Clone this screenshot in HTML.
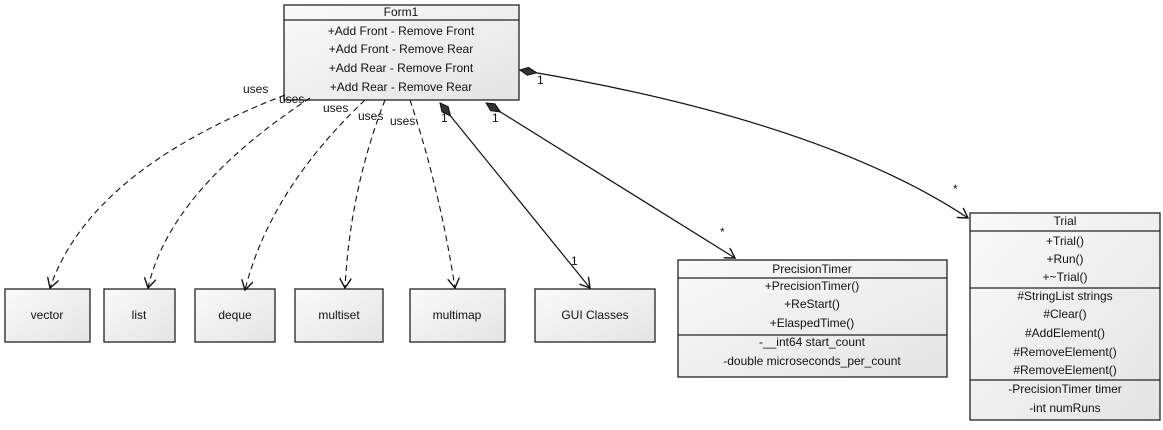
<!DOCTYPE html>
<html><head><meta charset="utf-8"><style>
html,body{margin:0;padding:0;background:#fff}
svg text{font-family:"Liberation Sans",sans-serif;font-size:12px;fill:#111}
</style></head><body>
<svg width="1163" height="425" viewBox="0 0 1163 425" xmlns="http://www.w3.org/2000/svg">
<defs>
<linearGradient id="g" x1="0" y1="0" x2="1" y2="1"><stop offset="0" stop-color="#fafafa"/><stop offset="1" stop-color="#e4e4e4"/></linearGradient>
<marker id="a" markerWidth="12" markerHeight="12" refX="10" refY="6" orient="auto" markerUnits="userSpaceOnUse"><path d="M0,0 L10,6 L0,12" fill="none" stroke="#111" stroke-width="1.4"/></marker>
<marker id="d" markerWidth="20" markerHeight="10" refX="1" refY="5" orient="auto" markerUnits="userSpaceOnUse"><path d="M1,5 L9,1 L18,5 L9,9 Z" fill="#333" stroke="#111"/></marker>
</defs>
<g fill="url(#g)" stroke="#222" stroke-width="1.3">
<rect x="284" y="5" width="235" height="95"/>
<rect x="5" y="289" width="85" height="53"/>
<rect x="104" y="289" width="71" height="53"/>
<rect x="195" y="289" width="80" height="53"/>
<rect x="295" y="289" width="88" height="53"/>
<rect x="410" y="289" width="95" height="53"/>
<rect x="535" y="289" width="120" height="53"/>
<rect x="678" y="260" width="269" height="117"/>
<rect x="970" y="213" width="190" height="207"/>
</g>
<g stroke="#222" stroke-width="1.2">
<line x1="284" y1="20" x2="519" y2="20"/>
<line x1="678" y1="278" x2="947" y2="278"/>
<line x1="678" y1="335" x2="947" y2="335"/>
<line x1="970" y1="231" x2="1160" y2="231"/>
<line x1="970" y1="288" x2="1160" y2="288"/>
<line x1="970" y1="380" x2="1160" y2="380"/>
</g>
<g fill="none" stroke="#111" stroke-width="1.1" stroke-dasharray="6,4" marker-end="url(#a)">
<path d="M285,95 Q90,170 50,288"/>
<path d="M310,98 Q170,190 148,288"/>
<path d="M365,100 Q270,190 245,290"/>
<path d="M385,100 Q350,190 345,288"/>
<path d="M410,100 Q440,190 455,288"/>
</g>
<g fill="none" stroke="#111" stroke-width="1.2" marker-start="url(#d)" marker-end="url(#a)">
<path d="M440,103 L590,288"/>
<path d="M486,103 L735,258"/>
<path d="M520,70 Q820,120 968,218"/>
</g>
<g text-anchor="middle">
<text x="401" y="16">Form1</text>
<text x="401" y="35">+Add Front  - Remove Front</text>
<text x="401" y="53">+Add Front  - Remove Rear</text>
<text x="401" y="72">+Add Rear  - Remove Front</text>
<text x="401" y="91">+Add Rear  - Remove Rear</text>
<text x="47" y="319">vector</text>
<text x="139" y="319">list</text>
<text x="235" y="319">deque</text>
<text x="339" y="319">multiset</text>
<text x="457" y="319">multimap</text>
<text x="595" y="319">GUI Classes</text>
<text x="812" y="273">PrecisionTimer</text>
<text x="812" y="290">+PrecisionTimer()</text>
<text x="812" y="308">+ReStart()</text>
<text x="812" y="327">+ElaspedTime()</text>
<text x="812" y="346">-__int64 start_count</text>
<text x="812" y="365">-double microseconds_per_count</text>
<text x="1065" y="225">Trial</text>
<text x="1065" y="245">+Trial()</text>
<text x="1065" y="263">+Run()</text>
<text x="1065" y="281">+~Trial()</text>
<text x="1065" y="300">#StringList strings</text>
<text x="1065" y="318">#Clear()</text>
<text x="1065" y="337">#AddElement()</text>
<text x="1065" y="356">#RemoveElement()</text>
<text x="1065" y="374">#RemoveElement()</text>
<text x="1065" y="393">-PrecisionTimer timer</text>
<text x="1065" y="412">-int numRuns</text>
</g>
<g style="font-size:10px">
<text x="243" y="93">uses</text>
<text x="279" y="103">uses</text>
<text x="323" y="112">uses</text>
<text x="358" y="120">uses</text>
<text x="390" y="125">uses</text>
<text x="537" y="84">1</text>
<text x="441" y="122">1</text>
<text x="492" y="122">1</text>
<text x="571" y="265">1</text>
<text x="953" y="193">*</text>
<text x="720" y="236">*</text>
</g>
</svg>
</body></html>
